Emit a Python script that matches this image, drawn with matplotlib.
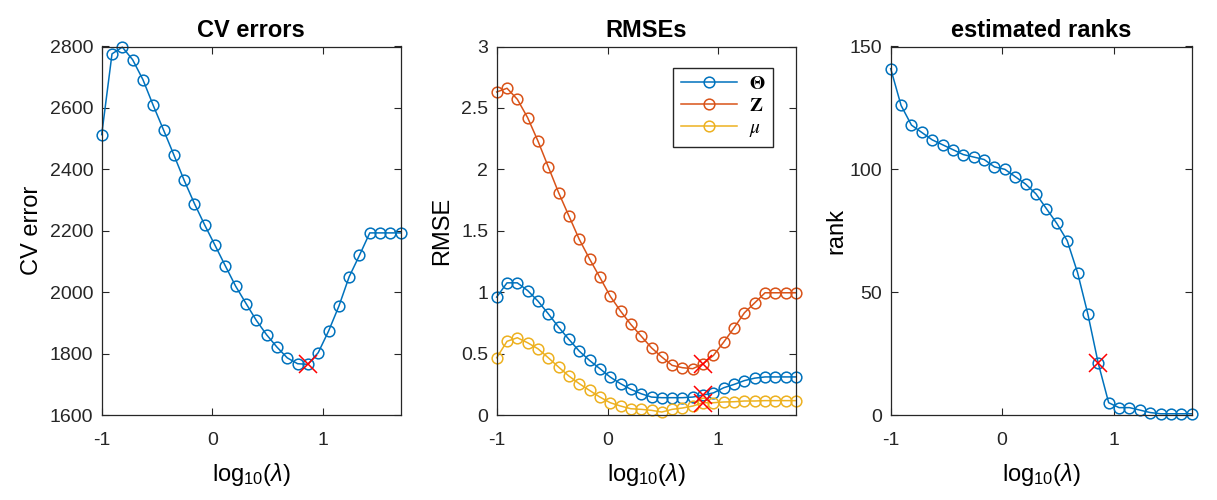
import numpy as np
import matplotlib
matplotlib.use("Agg")
import matplotlib.pyplot as plt

plt.rcParams['font.family'] = ['Liberation Sans', 'DejaVu Sans']
plt.rcParams['mathtext.fontset'] = 'custom'
plt.rcParams['mathtext.rm'] = 'Liberation Sans'
plt.rcParams['mathtext.it'] = 'Liberation Sans:italic'
plt.rcParams['mathtext.bf'] = 'Liberation Sans:bold'
plt.rcParams['axes.unicode_minus'] = False

# log10(lambda) grid, 30 values from -1 to 1.7
log_lambda = np.linspace(-1, 1.7, 30)
best_idx = 20

cv_error = [2513, 2776, 2798, 2757, 2692, 2608, 2528, 2447, 2364, 2288,
            2218, 2152, 2085, 2019, 1963, 1908, 1861, 1821, 1786, 1767,
            1765, 1803, 1873, 1954, 2050, 2120, 2193, 2193, 2193, 2193]

rmse_theta = [0.96, 1.076, 1.076, 1.013, 0.927, 0.824, 0.715, 0.615, 0.520, 0.444,
              0.377, 0.309, 0.255, 0.209, 0.173, 0.146, 0.141, 0.141, 0.141, 0.146,
              0.163, 0.18, 0.222, 0.249, 0.28, 0.30, 0.31, 0.31, 0.31, 0.31]
rmse_z = [2.63, 2.66, 2.57, 2.42, 2.23, 2.02, 1.81, 1.62, 1.43, 1.27,
          1.12, 0.967, 0.846, 0.737, 0.642, 0.547, 0.472, 0.404, 0.385, 0.377,
          0.417, 0.485, 0.594, 0.71, 0.832, 0.913, 0.995, 0.995, 0.995, 0.995]
rmse_mu = [0.466, 0.60, 0.629, 0.588, 0.539, 0.466, 0.39, 0.317, 0.255, 0.20,
           0.146, 0.10, 0.073, 0.051, 0.046, 0.038, 0.024, 0.046, 0.057, 0.073,
           0.10, 0.10, 0.106, 0.108, 0.114, 0.114, 0.117, 0.117, 0.117, 0.117]

ranks = [141, 126, 118, 115, 112, 110, 108, 106, 105, 104,
         101, 100, 97, 94, 90, 84, 78, 71, 58, 41,
         21, 5, 3, 3, 2, 1, 0.5, 0.5, 0.5, 0.5]

blue, orange, yellow = '#0072BD', '#D95319', '#EDB120'
axcol = '#262626'
xlab = r'log$_{10}$($\lambda$)'

fig = plt.figure(figsize=(12.17, 5), dpi=100)
W, H = 1217, 500
boxes = [(101.7, 400.7), (496.7, 796.0), (890.7, 1191.7)]
top, bottom = 46.5, 415.0
axes = [fig.add_axes([l / W, (H - bottom) / H, (r - l) / W, (bottom - top) / H]) for l, r in boxes]

mk = dict(marker='o', markerfacecolor='none', markersize=7.7, lw=1.1, mew=1.1)
xmk = dict(marker='x', color='red', markersize=13, mew=1.1, ls='none')

ax = axes[0]
ax.plot(log_lambda, cv_error, color=blue, **mk)
ax.plot(log_lambda[best_idx], cv_error[best_idx], **xmk)
ax.set_ylim(1600, 2800)
ax.set_yticks(range(1600, 2801, 200))
ax.set_ylabel('CV error', fontsize=17, labelpad=5)
ax.set_title('CV errors', fontsize=17, fontweight='bold', pad=7)

ax = axes[1]
ax.plot(log_lambda, rmse_theta, color=blue, label=r'$\mathbf{\Theta}$', **mk)
ax.plot(log_lambda, rmse_z, color=orange, label=r'$\mathbf{Z}$', **mk)
ax.plot(log_lambda, rmse_mu, color=yellow, label=r'$\mu$', **mk)
for s in (rmse_theta, rmse_z, rmse_mu):
    ax.plot(log_lambda[best_idx], s[best_idx], **xmk)
ax.set_ylim(0, 3)
ax.set_yticks([0, 0.5, 1, 1.5, 2, 2.5, 3])
ax.set_yticklabels(['0', '0.5', '1', '1.5', '2', '2.5', '3'])
ax.set_ylabel('RMSE', fontsize=17, labelpad=6)
ax.set_title('RMSEs', fontsize=17, fontweight='bold', pad=7)
leg = ax.legend(loc='upper right', bbox_to_anchor=(0.923, 0.942), borderaxespad=0,
                fancybox=False, edgecolor=axcol, framealpha=1, borderpad=0.4,
                handlelength=2.9, handletextpad=0.6, labelspacing=0.22,
                prop={'size': 14, 'math_fontfamily': 'stix'})
leg.get_frame().set_linewidth(1.0)

ax = axes[2]
ax.plot(log_lambda, ranks, color=blue, **mk)
ax.plot(log_lambda[best_idx], ranks[best_idx], **xmk)
ax.set_ylim(0, 150)
ax.set_yticks([0, 50, 100, 150])
ax.set_ylabel('rank', fontsize=17, labelpad=2)
ax.set_title('estimated ranks', fontsize=17, fontweight='bold', pad=7)

for ax in axes:
    ax.set_xlim(-1, 1.7)
    ax.set_xticks([-1, 0, 1])
    ax.set_xlabel(xlab, fontsize=17, labelpad=9)
    ax.tick_params(direction='in', top=True, right=True, length=5, width=0.8,
                   labelsize=14, colors=axcol, labelcolor=axcol)
    ax.tick_params(axis='x', pad=12)
    ax.tick_params(axis='y', pad=6)
    for sp in ax.spines.values():
        sp.set_color(axcol)
        sp.set_linewidth(0.9)
    for ln in ax.lines:
        ln.set_clip_on(False)

fig.savefig('out.png', dpi=100)
